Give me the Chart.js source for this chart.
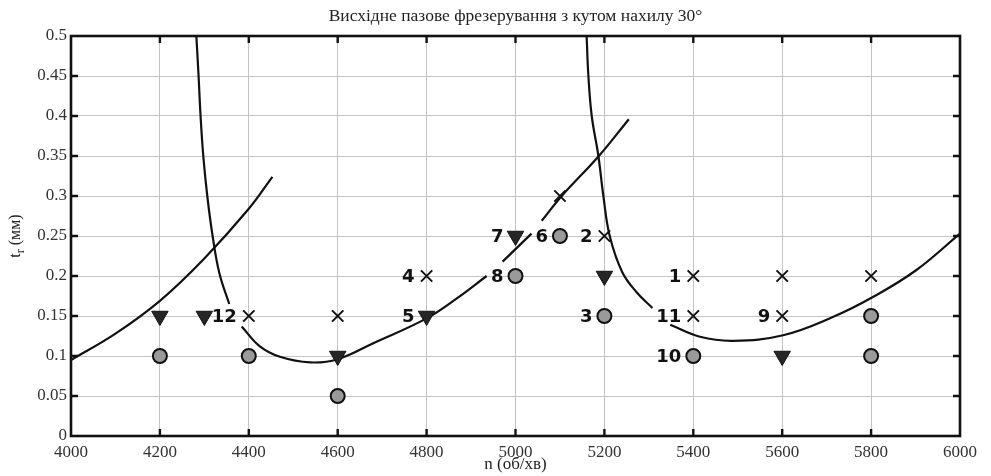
<!DOCTYPE html>
<html>
<head>
<meta charset="utf-8">
<script src="https://cdn.jsdelivr.net/npm/chart.js@4.4.1/dist/chart.umd.min.js"></script>
<style>
  body { margin: 0; background: #fff; }
  #wrap { width: 991px; height: 476px; }
</style>
</head>
<body>
<div id="wrap"><canvas id="chart" width="991" height="476"></canvas></div>
<script>
// markers
const circleX = [4200, 4400, 4600, 5000, 5100, 5200, 5400, 5800, 5800];
const circleY = [0.1, 0.1, 0.05, 0.2, 0.25, 0.15, 0.1, 0.15, 0.1];
const triX = [4200, 4300, 4600, 4800, 5000, 5200, 5600];
const triY = [0.15, 0.15, 0.1, 0.15, 0.25, 0.2, 0.1];
const crossX = [4400, 4600, 4800, 5100, 5200, 5400, 5400, 5600, 5600, 5800];
const crossY = [0.15, 0.15, 0.2, 0.3, 0.25, 0.2, 0.15, 0.2, 0.15, 0.2];

// numbered points
const labelText = ['1', '2', '3', '4', '5', '6', '7', '8', '9', '10', '11', '12'];
const labelX = [5400, 5200, 5200, 4800, 4800, 5100, 5000, 5000, 5600, 5400, 5400, 4400];
const labelY = [0.2, 0.25, 0.15, 0.2, 0.15, 0.25, 0.25, 0.2, 0.15, 0.1, 0.15, 0.15];

// curves (null = break where a label sits on the line)
const curveAX = [4000, 4100, 4200, 4300, 4400, 4453];
const curveAY = [0.095, 0.128, 0.169, 0.222, 0.284, 0.324];

const curveBX = [4282, 4287, 4291.5, 4297.6, 4306.6, 4318.6, 4334, 4356, 4370, 4384, 4425, 4470, 4538, 4600, 4680, 4800, 4868, 4935, 4953,
  4971, 5036, 5048, 5059, 5104, 5186, 5255];
const curveBY = [0.5, 0.45, 0.4, 0.35, 0.3, 0.25, 0.203, 0.165, null, 0.137, 0.112, 0.099, 0.092, 0.096, 0.116, 0.147, 0.172, 0.2, null,
  0.218, 0.253, null, 0.269, 0.3, 0.349, 0.396];

const curveCX = [5160, 5164, 5171.5, 5186.5, 5197.7, 5212, 5240, 5272, 5308, 5328, 5348, 5415, 5490, 5602, 5715, 5805, 5902, 6000];
const curveCY = [0.5, 0.45, 0.4, 0.35, 0.3, 0.25, 0.205, 0.18, 0.16, null, 0.139, 0.124, 0.119, 0.126, 0.149, 0.174, 0.2075, 0.253];

const xTicks = [4000, 4200, 4400, 4600, 4800, 5000, 5200, 5400, 5600, 5800, 6000];
const yTicks = [0, 0.05, 0.1, 0.15, 0.2, 0.25, 0.3, 0.35, 0.4, 0.45, 0.5];

function pts(xs, ys) {
  return xs.map((x, i) => ({ x: x, y: ys[i] }));
}

function curve(xs, ys) {
  return {
    type: 'line',
    data: pts(xs, ys),
    borderColor: '#111',
    borderWidth: 2.2,
    pointRadius: 0,
    fill: false,
    tension: 0.4,
    spanGaps: false,
    order: 5,
  };
}

const extras = {
  id: 'extras',
  afterDatasetsDraw(chart) {
    const ctx = chart.ctx;
    const xs = chart.scales.x, ys = chart.scales.y;
    ctx.save();
    ctx.font = 'bold 18px "DejaVu Sans", sans-serif';
    ctx.fillStyle = '#111';
    ctx.textAlign = 'right';
    ctx.textBaseline = 'middle';
    labelText.forEach((t, i) => {
      const px = xs.getPixelForValue(labelX[i]);
      const py = ys.getPixelForValue(labelY[i]);
      ctx.fillText(t, px - 12, py + 1);
    });
    ctx.restore();
  },
  afterDraw(chart) {
    const ctx = chart.ctx;
    const a = chart.chartArea;
    const xs = chart.scales.x, ys = chart.scales.y;
    ctx.save();
    // frame
    ctx.strokeStyle = '#111';
    ctx.lineWidth = 2.6;
    ctx.strokeRect(a.left, a.top, a.right - a.left, a.bottom - a.top);
    // inward ticks
    ctx.lineWidth = 2.4;
    ctx.beginPath();
    xTicks.slice(1, -1).forEach(v => {
      const px = xs.getPixelForValue(v);
      ctx.moveTo(px, a.top); ctx.lineTo(px, a.top + 7);
      ctx.moveTo(px, a.bottom); ctx.lineTo(px, a.bottom - 7);
    });
    yTicks.slice(1, -1).forEach(v => {
      const py = ys.getPixelForValue(v);
      ctx.moveTo(a.left, py); ctx.lineTo(a.left + 7, py);
      ctx.moveTo(a.right, py); ctx.lineTo(a.right - 7, py);
    });
    ctx.stroke();

    // title
    ctx.fillStyle = '#222';
    ctx.textAlign = 'center';
    ctx.textBaseline = 'middle';
    ctx.font = '17.5px "Liberation Serif", serif';
    ctx.fillText('Висхідне пазове фрезерування з кутом нахилу 30°', (a.left + a.right) / 2, 16);
    // x title
    ctx.font = '17px "Liberation Serif", serif';
    ctx.fillText('n (об/хв)', (a.left + a.right) / 2, 465);

    // y title with subscript
    ctx.translate(16, (a.top + a.bottom) / 2);
    ctx.rotate(-Math.PI / 2);
    ctx.textAlign = 'left';
    ctx.textBaseline = 'middle';
    const f1 = '16px "Liberation Serif", serif', f2 = '12px "Liberation Serif", serif';
    ctx.font = f1; const wt = ctx.measureText('t').width; const wm = ctx.measureText(' (мм)').width;
    ctx.font = f2; const wr = ctx.measureText('r').width;
    let x0 = -(wt + wr + wm) / 2;
    ctx.font = f1; ctx.fillText('t', x0, 0);
    ctx.font = f2; ctx.fillText('r', x0 + wt, 5);
    ctx.font = f1; ctx.fillText(' (мм)', x0 + wt + wr, 0);
    ctx.restore();
  }
};

new Chart(document.getElementById('chart'), {
  type: 'scatter',
  data: {
    datasets: [
      {
        data: pts(circleX, circleY),
        pointStyle: 'circle',
        pointRadius: 7,
        backgroundColor: '#9a9a9a',
        borderColor: '#111',
        borderWidth: 2,
        order: 1,
      },
      {
        data: pts(triX, triY),
        pointStyle: 'triangle',
        pointRotation: 180,
        pointRadius: 9.5,
        backgroundColor: '#262626',
        borderColor: '#111',
        borderWidth: 1,
        order: 1,
      },
      {
        data: pts(crossX, crossY),
        pointStyle: 'crossRot',
        pointRadius: 8,
        borderColor: '#111',
        borderWidth: 2,
        order: 1,
      },
      curve(curveAX, curveAY),
      curve(curveBX, curveBY),
      curve(curveCX, curveCY),
    ],
  },
  options: {
    responsive: false,
    animation: false,
    devicePixelRatio: 1,
    layout: { padding: { top: 36, right: 31, left: 0, bottom: 0 } },
    plugins: {
      legend: { display: false },
      tooltip: { enabled: false },
      title: { display: false },
    },
    scales: {
      x: {
        type: 'linear',
        min: 4000,
        max: 6000,
        afterFit(s) { s.height = 40; },
        afterBuildTicks(s) { s.ticks = xTicks.map(v => ({ value: v })); },
        grid: { color: '#c4c4c4', lineWidth: 1, drawTicks: false },
        border: { display: false },
        ticks: {
          padding: 6,
          color: '#333',
          font: { family: '"Liberation Serif", serif', size: 17 },
          callback: v => String(v),
          maxRotation: 0,
        },
      },
      y: {
        type: 'linear',
        min: 0,
        max: 0.5,
        afterFit(s) { s.width = 71; },
        afterBuildTicks(s) { s.ticks = yTicks.map(v => ({ value: v })); },
        grid: { color: '#c4c4c4', lineWidth: 1, drawTicks: false },
        border: { display: false },
        ticks: {
          padding: 4,
          color: '#333',
          font: { family: '"Liberation Serif", serif', size: 17 },
          callback: v => String(Number(v.toFixed(2))),
        },
      },
    },
  },
  plugins: [extras],
});
</script>
</body>
</html>
